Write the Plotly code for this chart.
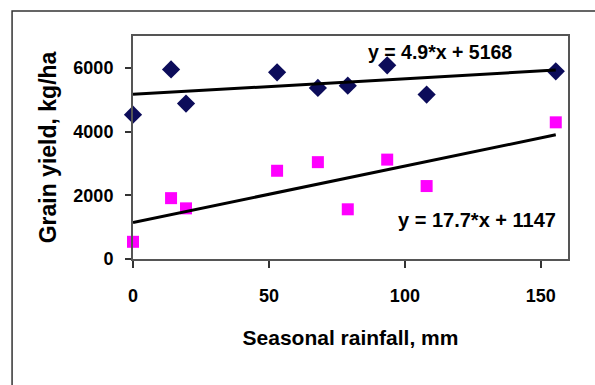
import plotly.graph_objects as go

# Data
rain_mm = [0, 14, 19.5, 53, 68, 79, 93.5, 108, 155.5]
yield_a = [4530, 5950, 4880, 5860, 5370, 5440, 6080, 5160, 5890]   # navy diamonds
yield_b = [540, 1910, 1590, 2770, 3040, 1560, 3120, 2290, 4290]    # magenta squares

# Trend line coefficients (from the chart's equations)
slope_a, icpt_a = 4.9, 5168
slope_b, icpt_b = 17.7, 1147
eq_a = "y = 4.9*x + 5168"
eq_b = "y = 17.7*x + 1147"

x_ticks = [0, 50, 100, 150]
y_ticks = [0, 2000, 4000, 6000]

FONT = "Liberation Sans, Arial, sans-serif"

xline = [min(rain_mm), max(rain_mm)]

fig = go.Figure()
fig.add_trace(go.Scatter(x=rain_mm, y=yield_a, mode="markers",
                         marker=dict(symbol="diamond", size=14, color="#0c0c5a"),
                         showlegend=False, cliponaxis=False))
fig.add_trace(go.Scatter(x=rain_mm, y=yield_b, mode="markers",
                         marker=dict(symbol="square", size=12, color="#ff00ff"),
                         showlegend=False, cliponaxis=False))
fig.add_trace(go.Scatter(x=xline, y=[slope_a * v + icpt_a for v in xline], mode="lines",
                         line=dict(color="black", width=3), showlegend=False))
fig.add_trace(go.Scatter(x=xline, y=[slope_b * v + icpt_b for v in xline], mode="lines",
                         line=dict(color="black", width=3), showlegend=False))

fig.add_annotation(x=113, y=6490, xref="x", yref="y", text=eq_a, showarrow=False,
                   font=dict(family=FONT, size=19.5, color="black", weight="bold"))
fig.add_annotation(x=126.5, y=1220, xref="x", yref="y", text=eq_b, showarrow=False,
                   font=dict(family=FONT, size=20, color="black", weight="bold"))

# outer frame
fig.add_shape(type="rect", xref="paper", yref="paper",
              x0=-0.278, x1=1.3, y0=-0.7, y1=1.112,
              line=dict(color="#333333", width=1.5), layer="below")

fig.update_layout(
    width=595, height=385,
    margin=dict(l=133, r=27, t=36, b=126),
    paper_bgcolor="white", plot_bgcolor="white",
    font=dict(family=FONT, color="black"),
    xaxis=dict(range=[0, 160], tickvals=x_ticks, ticks="outside", ticklen=7,
               tickcolor="#333", tickwidth=1.5,
               showline=True, linecolor="#555555", linewidth=2, mirror=True,
               showgrid=False, zeroline=False,
               tickfont=dict(size=18, family=FONT, weight="bold"),
               ticklabelstandoff=12,
               title=dict(text="Seasonal rainfall, mm", standoff=26,
                          font=dict(size=21, family=FONT, weight="bold"))),
    yaxis=dict(range=[0, 7000], tickvals=y_ticks, ticks="outside", ticklen=6,
               tickcolor="#333", tickwidth=1.5,
               showline=True, linecolor="#555555", linewidth=2, mirror=True,
               showgrid=False, zeroline=False,
               tickfont=dict(size=18, family=FONT, weight="bold"),
               ticklabelstandoff=8,
               title=dict(text="Grain yield, kg/ha", standoff=10,
                          font=dict(size=23, family=FONT, weight="bold"))),
)

fig.write_html("out.html")
